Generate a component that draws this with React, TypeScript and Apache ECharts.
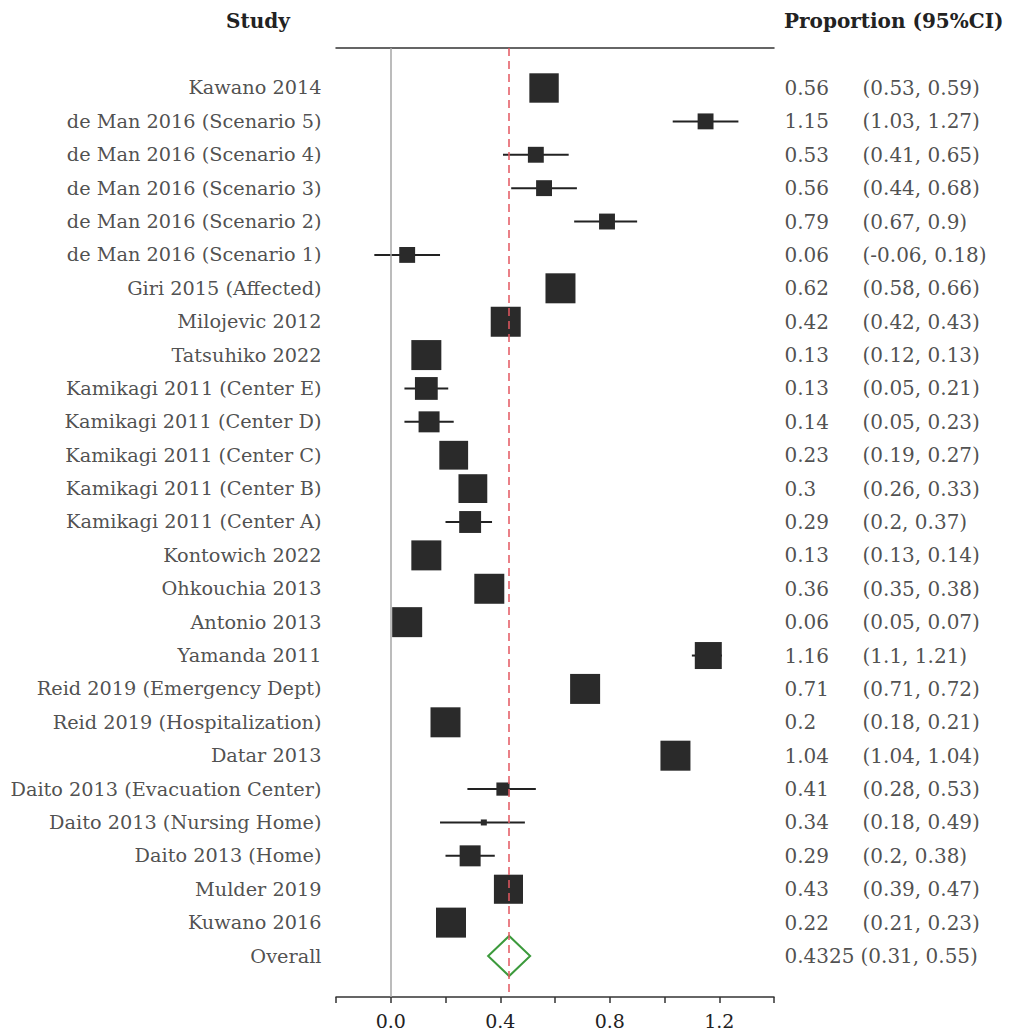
import React, { useEffect, useRef } from "react";
import * as echarts from "echarts";

const studies = [
  "Kawano 2014",
  "de Man 2016 (Scenario 5)",
  "de Man 2016 (Scenario 4)",
  "de Man 2016 (Scenario 3)",
  "de Man 2016 (Scenario 2)",
  "de Man 2016 (Scenario 1)",
  "Giri 2015 (Affected)",
  "Milojevic 2012",
  "Tatsuhiko 2022",
  "Kamikagi 2011 (Center E)",
  "Kamikagi 2011 (Center D)",
  "Kamikagi 2011 (Center C)",
  "Kamikagi 2011 (Center B)",
  "Kamikagi 2011 (Center A)",
  "Kontowich 2022",
  "Ohkouchia 2013",
  "Antonio 2013",
  "Yamanda 2011",
  "Reid 2019 (Emergency Dept)",
  "Reid 2019 (Hospitalization)",
  "Datar 2013",
  "Daito 2013 (Evacuation Center)",
  "Daito 2013 (Nursing Home)",
  "Daito 2013 (Home)",
  "Mulder 2019",
  "Kuwano 2016",
];

const estimates = [0.56, 1.15, 0.53, 0.56, 0.79, 0.06, 0.62, 0.42, 0.13, 0.13, 0.14, 0.23, 0.3, 0.29, 0.13, 0.36, 0.06, 1.16, 0.71, 0.2, 1.04, 0.41, 0.34, 0.29, 0.43, 0.22];
const lower = [0.53, 1.03, 0.41, 0.44, 0.67, -0.06, 0.58, 0.42, 0.12, 0.05, 0.05, 0.19, 0.26, 0.2, 0.13, 0.35, 0.05, 1.1, 0.71, 0.18, 1.04, 0.28, 0.18, 0.2, 0.39, 0.21];
const upper = [0.59, 1.27, 0.65, 0.68, 0.9, 0.18, 0.66, 0.43, 0.13, 0.21, 0.23, 0.27, 0.33, 0.37, 0.14, 0.38, 0.07, 1.21, 0.72, 0.21, 1.04, 0.53, 0.49, 0.38, 0.47, 0.23];
// relative study weights (100 = largest box)
const weights = [98, 53, 53, 53, 53, 53, 100, 100, 100, 76, 70, 96, 96, 73, 100, 100, 100, 90, 100, 100, 100, 44, 20, 70, 97, 100];

const overallLabel = "Overall";
const overallEstimate = 0.4325;
const overallLower = 0.31;
const overallUpper = 0.55;

const xTicks = [0.0, 0.4, 0.8, 1.2];

const FONT = "'DejaVu Serif', 'Liberation Serif', serif";
const TEXT = "#222";

export default function App() {
  const ref = useRef<HTMLDivElement>(null);

  useEffect(() => {
    if (!ref.current) return;
    const chart = echarts.init(ref.current, undefined, { renderer: "svg" });

    const rowCount = studies.length + 1;
    const boxData = studies.map((s, i) => [estimates[i], i, lower[i], upper[i], weights[i]]);
    const overallRow = studies.length;

    const leftLabels = studies.map((s, i) => [-0.2, i, s]).concat([[-0.2, overallRow, overallLabel]]);
    const rightLabels = studies
      .map((s, i) => [1.4, i, `{v|${estimates[i]}}{c|(${lower[i]}, ${upper[i]})}`])
      .concat([[1.4, overallRow, `{w|${overallEstimate}}{c|(${overallLower}, ${overallUpper})}`]]);

    const option: any = {
      animation: false,
      backgroundColor: "#ffffff",
      grid: { left: 336, right: 245, top: 48, bottom: 38, containLabel: false },
      xAxis: [
        {
          type: "value",
          min: -0.2,
          max: 1.4,
          interval: 0.2,
          position: "bottom",
          splitLine: { show: false },
          axisLine: { show: true, onZero: false, lineStyle: { color: "#333", width: 1.5 } },
          axisTick: { show: true, length: 6, lineStyle: { color: "#333", width: 1.5 } },
          axisLabel: {
            margin: 14,
            color: TEXT,
            fontFamily: FONT,
            fontSize: 19,
            formatter: (v: number) => {
              const hit = xTicks.find((t) => Math.abs(t - v) < 1e-6);
              return hit === undefined ? "" : hit.toFixed(1);
            },
          },
        },
        {
          type: "value",
          min: -0.2,
          max: 1.4,
          position: "top",
          splitLine: { show: false },
          axisLine: { show: true, onZero: false, lineStyle: { color: "#333", width: 1.5 } },
          axisTick: { show: false },
          axisLabel: { show: false },
        },
      ],
      yAxis: {
        type: "value",
        inverse: true,
        min: -1.198,
        max: rowCount - 1 + 1.228,
        show: false,
        splitLine: { show: false },
      },
      graphic: [
        {
          type: "text",
          left: 226,
          top: 11,
          style: { text: "Study", font: `bold 20px ${FONT}`, fill: TEXT },
        },
        {
          type: "text",
          left: 784,
          top: 11,
          style: { text: "Proportion (95%CI)", font: `bold 20px ${FONT}`, fill: TEXT },
        },
      ],
      series: [
        {
          type: "scatter",
          symbolSize: 1,
          itemStyle: { color: "rgba(0,0,0,0)" },
          silent: true,
          data: [[0, 0]],
          markLine: {
            silent: true,
            symbol: ["none", "none"],
            label: { show: false },
            data: [
              { xAxis: 0, lineStyle: { color: "#a6a6a6", width: 1.5, type: "solid" } },
              { xAxis: overallEstimate, lineStyle: { color: "#e45760", width: 1.5, type: [8, 5] } },
            ],
          },
        },
        {
          type: "custom",
          clip: false,
          data: boxData,
          renderItem: (params: any, api: any) => {
            const est = api.value(0);
            const row = api.value(1);
            const lo = api.value(2);
            const hi = api.value(3);
            const w = api.value(4);
            const c = api.coord([est, row]);
            const pl = api.coord([lo, row]);
            const ph = api.coord([hi, row]);
            const size = (30 * w) / 100;
            return {
              type: "group",
              children: [
                {
                  type: "line",
                  shape: { x1: pl[0], y1: c[1], x2: ph[0], y2: c[1] },
                  style: { stroke: "#222", lineWidth: 2 },
                },
                {
                  type: "rect",
                  shape: { x: c[0] - size / 2, y: c[1] - size / 2, width: size, height: size },
                  style: { fill: "#2a2a2a" },
                },
              ],
            };
          },
        },
        {
          type: "custom",
          clip: false,
          data: [[overallEstimate, overallRow]],
          renderItem: (params: any, api: any) => {
            const c = api.coord([api.value(0), api.value(1)]);
            const hw = 21;
            const hh = 20;
            return {
              type: "polygon",
              shape: {
                points: [
                  [c[0] - hw, c[1]],
                  [c[0], c[1] - hh],
                  [c[0] + hw, c[1]],
                  [c[0], c[1] + hh],
                ],
              },
              style: { fill: "none", stroke: "#3c9a3c", lineWidth: 2 },
            };
          },
        },
        {
          type: "scatter",
          symbolSize: 1,
          itemStyle: { color: "rgba(0,0,0,0)" },
          silent: true,
          data: leftLabels,
          label: {
            show: true,
            position: "left",
            distance: 14,
            color: TEXT,
            fontFamily: FONT,
            fontSize: 19.3,
            formatter: (p: any) => p.data[2],
          },
        },
        {
          type: "scatter",
          symbolSize: 1,
          itemStyle: { color: "rgba(0,0,0,0)" },
          silent: true,
          data: rightLabels,
          label: {
            show: true,
            position: "right",
            distance: 10,
            color: TEXT,
            fontFamily: FONT,
            fontSize: 20,
            formatter: (p: any) => p.data[2],
            rich: {
              v: { width: 78, color: TEXT, fontFamily: FONT, fontSize: 20 },
              w: { width: 76, color: TEXT, fontFamily: FONT, fontSize: 20 },
              c: { color: TEXT, fontFamily: FONT, fontSize: 20 },
            },
          },
        },
      ],
    };

    chart.setOption(option);
    return () => chart.dispose();
  }, []);

  return (
    <div
      ref={ref}
      style={{ position: "fixed", left: 0, top: 0, width: 1019, height: 1035, background: "#fff" }}
    />
  );
}
